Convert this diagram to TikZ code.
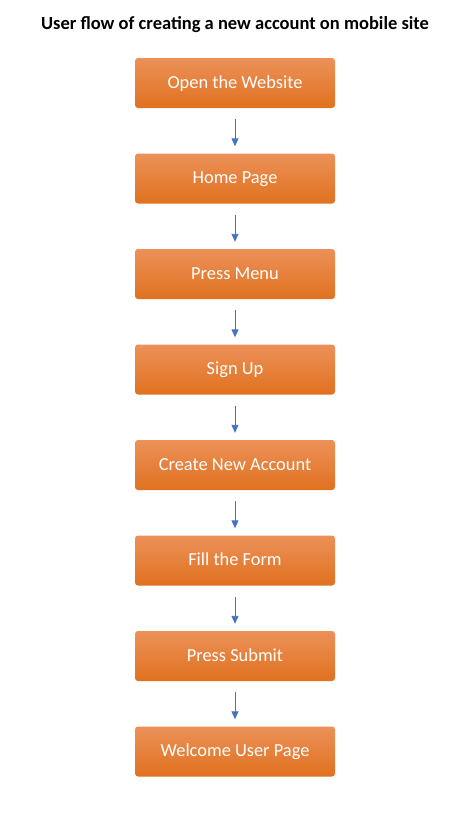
\documentclass[tikz,border=0pt]{standalone}
\usepackage{fontspec}
\setmainfont{Carlito}
\usetikzlibrary{arrows.meta}
\definecolor{otop}{HTML}{EC9159}
\definecolor{obot}{HTML}{E0711F}
\definecolor{arr}{HTML}{4472C4}
\tikzset{
  stepbox/.style={rectangle, rounded corners=3pt, minimum width=200pt, minimum height=50pt,
    top color=otop, bottom color=obot, draw=none, text=white, font=\fontsize{18.4}{22}\selectfont,
    inner sep=0pt, text height=12pt, text depth=2pt},
  flow/.style={draw=arr, line width=0.9pt, -{Triangle[length=8pt,width=7pt]}, shorten <=11pt, shorten >=7pt}
}
\begin{document}
\begin{tikzpicture}[x=1pt,y=1pt]
\useasboundingbox (0,0) rectangle (470,-827);
\node[font=\bfseries\fontsize{18.5}{22}\selectfont] (title) at (235,-25) {User flow of creating a new account on mobile site};
\node[stepbox] (b1) at (235,-83) {Open the Website};
\node[stepbox] (b2) at (235,-178.5) {Home Page};
\node[stepbox] (b3) at (235,-274) {Press Menu};
\node[stepbox] (b4) at (235,-369.5) {Sign Up};
\node[stepbox] (b5) at (235,-465) {Create New Account};
\node[stepbox] (b6) at (235,-560.5) {Fill the Form};
\node[stepbox] (b7) at (235,-656) {Press Submit};
\node[stepbox] (b8) at (235,-751.5) {Welcome User Page};
\foreach \a/\b in {b1/b2,b2/b3,b3/b4,b4/b5,b5/b6,b6/b7,b7/b8}
  \draw[flow] (\a) -- (\b);
\end{tikzpicture}
\end{document}
